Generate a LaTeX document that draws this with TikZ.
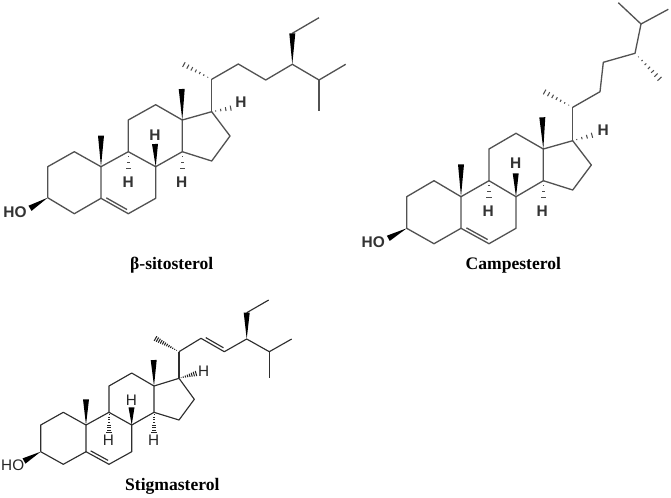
\documentclass[tikz,border=0pt]{standalone}
\usepackage{fontspec}
\setmainfont{Liberation Serif}
\newfontfamily\atomfont{Liberation Sans}
\usetikzlibrary{calc}

\tikzset{
	bond/.style={line width=0.75pt, line join=round, color=black!68},
	darkbond/.style={line width=0.65pt, line join=round, color=black!82},
	atom/.style={font=\atomfont\fontsize{8.7}{10}\selectfont, inner sep=0pt, text=black!85},
	boldatom/.style={atom, font=\atomfont\bfseries\fontsize{8.8}{10}\selectfont, text=black!80},
	title/.style={font=\bfseries\fontsize{10}{12}\selectfont, inner sep=0pt, text=black}
}
% solid wedge from the narrow end to the wide end
\newcommand{\wedgebond}[2]{
	\fill[black] (#1) -- ($(#2)!0.6mm!90:(#1)$) -- ($(#2)!0.6mm!-90:(#1)$) -- cycle;
}
% hashed wedge, first argument lists the positions of the marks
\newcommand{\hashbond}[4][black!70]{
	\foreach \t in {#2}
		\draw[#1, line width=0.6pt] ($(#3)!\t!(#4)!\t*0.55mm!90:(#4)$) -- ($(#3)!\t!(#4)!\t*0.55mm!-90:(#4)$);
}
\newcommand{\innerbond}[3][bond]{
	\draw[#1] ($(#2)!0.14!(#3)!0.6mm!90:(#3)$) -- ($(#2)!0.9!(#3)!0.6mm!90:(#3)$);
}

\begin{document}
\begin{tikzpicture}[x=0.02cm, y=-0.02cm]
	\useasboundingbox (0,0) rectangle (671,497);

	% Atoms of the first molecule
	\foreach \name/\px/\py in {a1/74.3/151.7, a2/47.7/166.7, a3/47.7/197.7, a4/74.3/213.7, a5/101/198.3,
		a6/128.3/213.7, a7/155.7/198.3, a8/155.7/166.7, a9/128.3/151.7, a10/101/166.7, a11/128.3/120,
		a12/155.7/104.7, a13/182.3/120, a14/182.3/151.7, a15/211.7/161, a16/230/136, a17/211.7/111.7,
		a18/181.7/89, a19/101/135.7, a20/211.7/79.3, a21/183.3/64.3, a22/238.3/64, a23/265.7/80,
		a24/292.3/64.3, a25/319/80, a26/345.7/64.3, a27/319/111, a28/292.3/33.3, a29/319/17.7,
		ah8/155/144, ah9/128.3/169, ah14/182.3/169, ah17/231.7/108, ao/30/208.3}
		\coordinate (\name) at (\px,\py);

	% Atoms of the second molecule
	\foreach \name/\px/\py in {b1/434/180.7, b2/406.7/196.7, b3/406.7/228.3, b4/434/243.7, b5/461/228.3,
		b6/489/243.7, b7/516/228.3, b8/516/196.7, b9/489/180.7, b10/461/196.7, b11/489/149,
		b12/516/133.3, b13/543.3/149, b14/543.3/180.7, b15/572.7/190, b16/591.3/165, b17/572.7/140.7,
		b18/542.3/117.3, b19/461/164.3, b20/572.7/107.3, b21/544/91.7, b22/600/91.7, b23/603.3/62.3,
		b24/635/53.3, b25/641/24, b26/668.3/9.3, b27/618.3/2.7, b28/660/79.3,
		bh8/515.7/173.3, bh9/489/198, bh14/543.3/198, bh17/593/135, bo/388.3/238.3}
		\coordinate (\name) at (\px,\py);

	% Atoms of the third molecule
	\foreach \name/\px/\py in {c1/63.3/412.3, c2/40.7/425, c3/40.7/451.7, c4/63.3/464.3, c5/86/451.7,
		c6/109/464.3, c7/131.7/451.7, c8/131.7/425, c9/109/412.3, c10/86/425, c11/109/386,
		c12/131.7/373, c13/154/386, c14/154/412.3, c15/179/420, c16/194.3/399.3, c17/179/378.3,
		c18/153.7/360, c19/86/399.3, c20/179/351.7, c21/155/338.3, c22/201/338.3, c23/224.3/351.7,
		c24/246.7/339, c25/269.3/351.7, c26/291.7/339, c27/269.3/377.7, c28/246.7/312.7, c29/268.7/300,
		ch8/131.5/407.3, ch9/109/433.5, ch14/154/433.5, ch17/196.7/373.3, co/24/461}
		\coordinate (\name) at (\px,\py);

	% Ring system, the same in all three
	\foreach \m/\st in {a/bond, b/bond, c/darkbond} {
		\draw[\st] (\m3) -- (\m2) -- (\m1) -- (\m10) -- (\m5) -- (\m4) -- (\m3);
		\draw[\st] (\m5) -- (\m6) -- (\m7) -- (\m8) -- (\m9) -- (\m10);
		\draw[\st] (\m9) -- (\m11) -- (\m12) -- (\m13) -- (\m14) -- (\m8);
		\draw[\st] (\m14) -- (\m15) -- (\m16) -- (\m17) -- (\m13);
		\draw[\st] (\m17) -- (\m20);
		\innerbond[\st]{\m5}{\m6}
		\wedgebond{\m13}{\m18}
		\wedgebond{\m10}{\m19}
		\wedgebond{\m8}{\m h8}
		\wedgebond{\m3}{\m o}
	}

	% Side chains
	\draw[bond] (a20) -- (a22) -- (a23) -- (a24) -- (a25) -- (a26);
	\draw[bond] (a25) -- (a27);
	\draw[bond] (a28) -- (a29);
	\wedgebond{a24}{a28}
	\draw[bond] (b20) -- (b22) -- (b23) -- (b24) -- (b25) -- (b26);
	\draw[bond] (b25) -- (b27);
	\draw[darkbond] (c20) -- (c22) -- (c23) -- (c24) -- (c25) -- (c26);
	\draw[darkbond] (c25) -- (c27);
	\draw[darkbond] (c28) -- (c29);
	\innerbond[darkbond]{c22}{c23}
	\wedgebond{c24}{c28}

	% Hashed bonds
	\hashbond{0.14,0.28,0.42,0.56,0.7,0.84,0.98}{a20}{a21}
	\hashbond{0.2,0.45,0.7,0.95}{a17}{ah17}
	\hashbond{0.25,0.6,0.95}{a9}{ah9}
	\hashbond{0.25,0.6,0.95}{a14}{ah14}
	\hashbond{0.14,0.28,0.42,0.56,0.7,0.84,0.98}{b20}{b21}
	\hashbond{0.14,0.28,0.42,0.56,0.7,0.84,0.98}{b24}{b28}
	\hashbond{0.2,0.45,0.7,0.95}{b17}{bh17}
	\hashbond{0.25,0.6,0.95}{b9}{bh9}
	\hashbond{0.25,0.6,0.95}{b14}{bh14}
	\hashbond[black!85]{0.1,0.18,...,0.98}{c20}{c21}
	\hashbond[black!85]{0.12,0.24,...,0.98}{c17}{ch17}
	\hashbond[black!85]{0.12,0.24,...,0.98}{c9}{ch9}
	\hashbond[black!85]{0.12,0.24,...,0.98}{c14}{ch14}

	% Atom labels
	\node[boldatom] (aho) at (15,211.7) {HO};
	\node[boldatom] (ahb) at (155,135) {H};
	\node[boldatom] (ahc) at (128.3,181.7) {H};
	\node[boldatom] (ahd) at (181.7,181.7) {H};
	\node[boldatom] (ahe) at (241,101.7) {H};
	\node[boldatom] (bho) at (373.3,241.7) {HO};
	\node[boldatom] (bhb) at (515.7,163.3) {H};
	\node[boldatom] (bhc) at (488.3,210.7) {H};
	\node[boldatom] (bhd) at (542.3,210.7) {H};
	\node[boldatom] (bhe) at (603.3,130) {H};
	\node[atom] (cho) at (12.7,465) {HO};
	\node[atom] (chb) at (131.3,400) {H};
	\node[atom] (chc) at (108.3,440) {H};
	\node[atom] (chd) at (153.7,440) {H};
	\node[atom] (che) at (203.7,371) {H};

	% Names
	\node[title] (sitosterol) at (171.7,265) {β-sitosterol};
	\node[title] (campesterol) at (513.3,265) {Campesterol};
	\node[title] (stigmasterol) at (172.3,486.7) {Stigmasterol};
\end{tikzpicture}
\end{document}
